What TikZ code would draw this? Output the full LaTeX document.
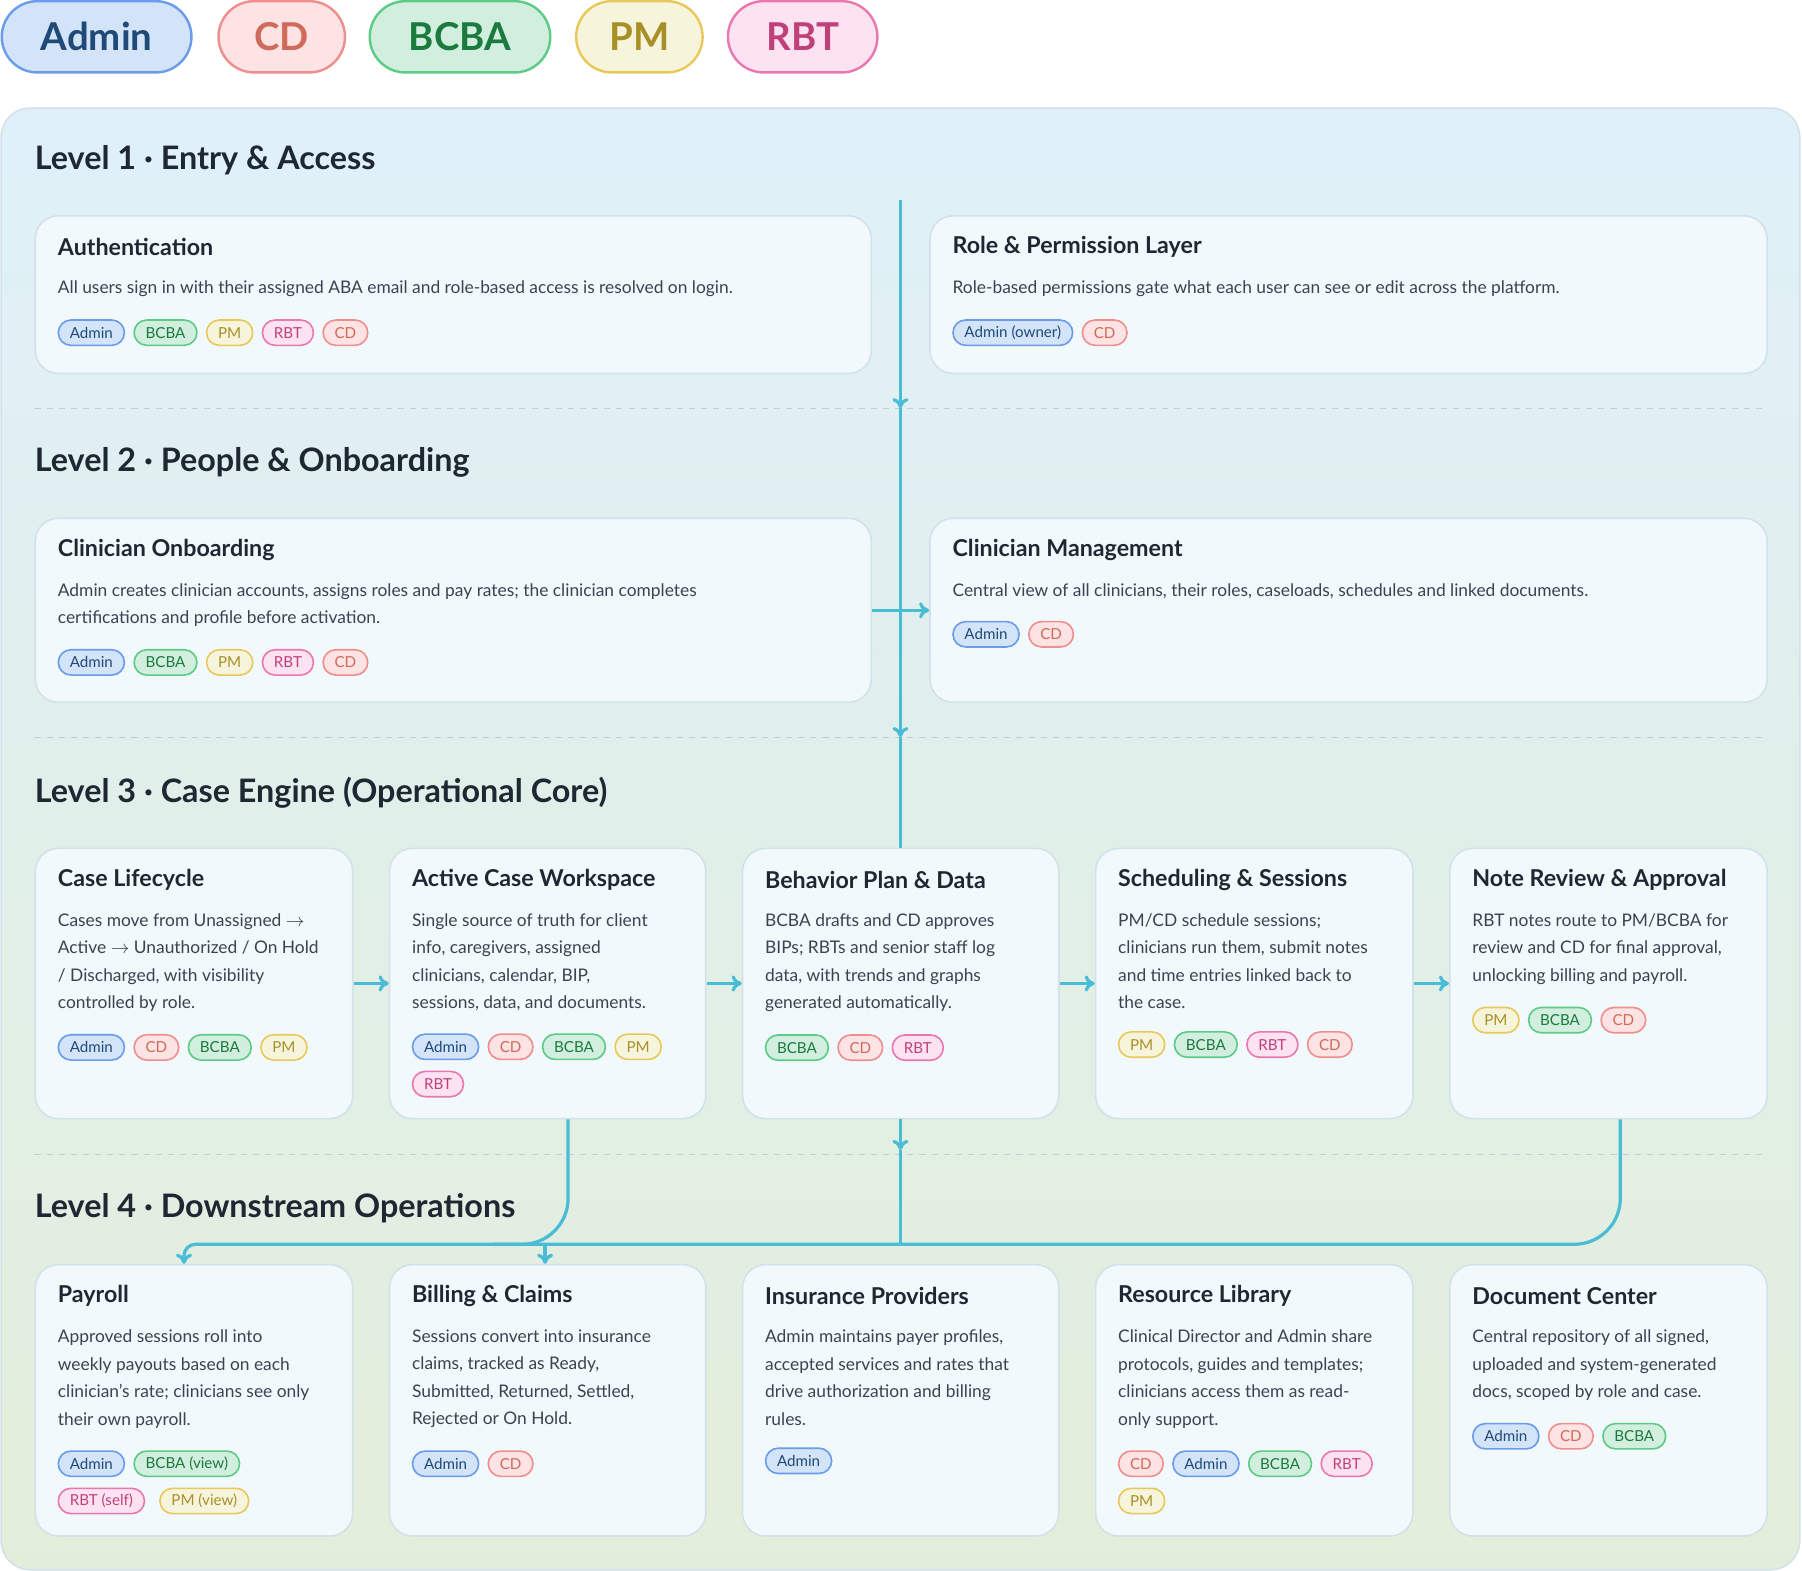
\documentclass[tikz,border=0pt]{standalone}
\usepackage{fontspec}
\setmainfont{Lato}
\usetikzlibrary{arrows.meta,positioning,calc}
\definecolor{flowblue}{HTML}{4BBCD6}
\definecolor{cardline}{HTML}{D3E1EA}
\definecolor{cardfill}{HTML}{F1F9FC}
\definecolor{paneltop}{HTML}{DFF0F9}
\definecolor{panelbottom}{HTML}{E3EEDA}
\definecolor{inkdark}{HTML}{1E2732}
\definecolor{inkbody}{HTML}{3A4350}
\definecolor{adminfill}{HTML}{D3E3F8}\definecolor{admindraw}{HTML}{6A9CEB}\definecolor{admintext}{HTML}{1F4A78}
\definecolor{cdfill}{HTML}{FDE3E3}\definecolor{cddraw}{HTML}{F08E8E}\definecolor{cdtext}{HTML}{D06A5A}
\definecolor{bcbafill}{HTML}{D2EEDF}\definecolor{bcbadraw}{HTML}{5CCB85}\definecolor{bcbatext}{HTML}{1B7A3E}
\definecolor{pmfill}{HTML}{F7F4DC}\definecolor{pmdraw}{HTML}{E8C85A}\definecolor{pmtext}{HTML}{A89028}
\definecolor{rbtfill}{HTML}{FDE3F2}\definecolor{rbtdraw}{HTML}{E878AE}\definecolor{rbttext}{HTML}{C0407A}
\tikzset{
  chip/.style={draw,line width=0.8pt,rounded corners=0.22cm,minimum height=0.44cm,inner xsep=0.2cm,inner ysep=0pt,font=\fontsize{7.5}{9}\selectfont},
  bigchip/.style={draw,line width=1.2pt,rounded corners=0.62cm,minimum height=1.24cm,inner xsep=0.3cm,font=\fontsize{19}{22}\selectfont\bfseries},
  admin/.style={fill=adminfill,draw=admindraw,text=admintext},
  cd/.style={fill=cdfill,draw=cddraw,text=cdtext},
  bcba/.style={fill=bcbafill,draw=bcbadraw,text=bcbatext},
  pm/.style={fill=pmfill,draw=pmdraw,text=pmtext},
  rbt/.style={fill=rbtfill,draw=rbtdraw,text=rbttext},
  cardbox/.style={draw=cardline,line width=0.8pt,fill=cardfill,rounded corners=0.4cm,anchor=north west,inner sep=0pt},
  cardtitle/.style={anchor=west,inner sep=0pt,text=inkdark,font=\fontsize{11.5}{13}\selectfont\bfseries},
  cardbody/.style={anchor=north west,inner sep=0pt,align=left,text=inkbody,font=\fontsize{8.6}{13.6}\selectfont},
  leveltitle/.style={anchor=west,inner sep=0pt,text=inkdark,font=\fontsize{16}{19}\selectfont\bfseries},
  flow/.style={flowblue,line width=1.6pt},
  flowarrow/.style={flow,-{To[length=5pt,width=8pt]}},
  sep/.style={cardline!80!gray,dashed,line width=0.6pt}
}
% card: name, x, y, width, height, title, body
\newcommand\card[7]{%
  \node[cardbox,minimum width={#4*0.02cm},minimum height={#5*0.02cm}] (#1) at (#2,#3) {};
  \node[cardtitle] (#1-t) at ($(#1.north west)+(20,28)$) {#6};
  \node[cardbody] (#1-b) at ($(#1.north west)+(20,57)$) {#7};
}
\begin{document}
\begin{tikzpicture}[x=0.02cm,y=-0.02cm]
\useasboundingbox (0,0) rectangle (1567,1366);

% legend
\node[bigchip,admin,minimum width=3.3cm] (lg-admin) at (84,32) {Admin};
\node[bigchip,cd,minimum width=2.2cm] (lg-cd) at (245,32) {CD};
\node[bigchip,bcba,minimum width=3.14cm] (lg-bcba) at (400,32) {BCBA};
\node[bigchip,pm,minimum width=2.2cm] (lg-pm) at (556,32) {PM};
\node[bigchip,rbt,minimum width=2.6cm] (lg-rbt) at (698,32) {RBT};

% panel
\shade[top color=paneltop,bottom color=panelbottom,rounded corners=0.5cm] (1,94) rectangle (1565,1365);
\draw[cardline,line width=0.8pt,rounded corners=0.5cm] (1,94) rectangle (1565,1365);

% levels
\node[leveltitle] (lv1) at (30,139) {Level 1 · Entry \& Access};
\node[leveltitle] (lv2) at (30,402) {Level 2 · People \& Onboarding};
\node[leveltitle] (lv3) at (30,689) {Level 3 · Case Engine (Operational Core)};
\node[leveltitle] (lv4) at (30,1051) {Level 4 · Downstream Operations};
\draw[sep] (30,355) -- (1537,355);
\draw[sep] (30,641) -- (1537,641);
\draw[sep] (30,1004) -- (1537,1004);

% level 1
\card{auth}{30}{187}{727}{137}{Authentication}{All users sign in with their assigned ABA email and role-based access is resolved on login.}
\card{role}{808}{187}{728}{137}{Role \& Permission Layer}{Role-based permissions gate what each user can see or edit across the platform.}
\node[chip,admin,below=0.38cm of auth-b.south west,anchor=north west] (auth-1) {Admin};
\node[chip,bcba,right=0.14cm of auth-1] (auth-2) {BCBA};
\node[chip,pm,right=0.14cm of auth-2] (auth-3) {PM};
\node[chip,rbt,right=0.14cm of auth-3] (auth-4) {RBT};
\node[chip,cd,right=0.14cm of auth-4] (auth-5) {CD};
\node[chip,admin,below=0.38cm of role-b.south west,anchor=north west] (role-1) {Admin (owner)};
\node[chip,cd,right=0.14cm of role-1] (role-2) {CD};

% level 2
\card{onb}{30}{450}{727}{160}{Clinician Onboarding}{Admin creates clinician accounts, assigns roles and pay rates; the clinician completes\\certifications and profile before activation.}
\card{mgmt}{808}{450}{728}{160}{Clinician Management}{Central view of all clinicians, their roles, caseloads, schedules and linked documents.}
\node[chip,admin,below=0.38cm of onb-b.south west,anchor=north west] (onb-1) {Admin};
\node[chip,bcba,right=0.14cm of onb-1] (onb-2) {BCBA};
\node[chip,pm,right=0.14cm of onb-2] (onb-3) {PM};
\node[chip,rbt,right=0.14cm of onb-3] (onb-4) {RBT};
\node[chip,cd,right=0.14cm of onb-4] (onb-5) {CD};
\node[chip,admin,below=0.38cm of mgmt-b.south west,anchor=north west] (mgmt-1) {Admin};
\node[chip,cd,right=0.14cm of mgmt-1] (mgmt-2) {CD};

% level 3
\card{life}{30}{737}{276}{235}{Case Lifecycle}{Cases move from Unassigned $\rightarrow$\\Active $\rightarrow$ Unauthorized / On Hold\\/ Discharged, with visibility\\controlled by role.}
\card{work}{338}{737}{275}{235}{Active Case Workspace}{Single source of truth for client\\info, caregivers, assigned\\clinicians, calendar, BIP,\\sessions, data, and documents.}
\card{bip}{645}{737}{275}{235}{Behavior Plan \& Data}{BCBA drafts and CD approves\\BIPs; RBTs and senior staff log\\data, with trends and graphs\\generated automatically.}
\card{sched}{952}{737}{276}{235}{Scheduling \& Sessions}{PM/CD schedule sessions;\\clinicians run them, submit notes\\and time entries linked back to\\the case.}
\card{note}{1260}{737}{276}{235}{Note Review \& Approval}{RBT notes route to PM/BCBA for\\review and CD for final approval,\\unlocking billing and payroll.}
\node[chip,admin,below=0.38cm of life-b.south west,anchor=north west] (life-1) {Admin};
\node[chip,cd,right=0.14cm of life-1] (life-2) {CD};
\node[chip,bcba,right=0.14cm of life-2] (life-3) {BCBA};
\node[chip,pm,right=0.14cm of life-3] (life-4) {PM};
\node[chip,admin,below=0.38cm of work-b.south west,anchor=north west] (work-1) {Admin};
\node[chip,cd,right=0.14cm of work-1] (work-2) {CD};
\node[chip,bcba,right=0.14cm of work-2] (work-3) {BCBA};
\node[chip,pm,right=0.14cm of work-3] (work-4) {PM};
\node[chip,rbt,below=0.18cm of work-1.south west,anchor=north west] (work-5) {RBT};
\node[chip,bcba,below=0.38cm of bip-b.south west,anchor=north west] (bip-1) {BCBA};
\node[chip,cd,right=0.14cm of bip-1] (bip-2) {CD};
\node[chip,rbt,right=0.14cm of bip-2] (bip-3) {RBT};
\node[chip,pm,below=0.38cm of sched-b.south west,anchor=north west] (sched-1) {PM};
\node[chip,bcba,right=0.14cm of sched-1] (sched-2) {BCBA};
\node[chip,rbt,right=0.14cm of sched-2] (sched-3) {RBT};
\node[chip,cd,right=0.14cm of sched-3] (sched-4) {CD};
\node[chip,pm,below=0.38cm of note-b.south west,anchor=north west] (note-1) {PM};
\node[chip,bcba,right=0.14cm of note-1] (note-2) {BCBA};
\node[chip,cd,right=0.14cm of note-2] (note-3) {CD};

% level 4
\card{pay}{30}{1099}{276}{236}{Payroll}{Approved sessions roll into\\weekly payouts based on each\\clinician's rate; clinicians see only\\their own payroll.}
\card{bill}{338}{1099}{275}{236}{Billing \& Claims}{Sessions convert into insurance\\claims, tracked as Ready,\\Submitted, Returned, Settled,\\Rejected or On Hold.}
\card{ins}{645}{1099}{275}{236}{Insurance Providers}{Admin maintains payer profiles,\\accepted services and rates that\\drive authorization and billing\\rules.}
\card{res}{952}{1099}{276}{236}{Resource Library}{Clinical Director and Admin share\\protocols, guides and templates;\\clinicians access them as read-\\only support.}
\card{doc}{1260}{1099}{276}{236}{Document Center}{Central repository of all signed,\\uploaded and system-generated\\docs, scoped by role and case.}
\node[chip,admin,below=0.38cm of pay-b.south west,anchor=north west] (pay-1) {Admin};
\node[chip,bcba,right=0.14cm of pay-1] (pay-2) {BCBA (view)};
\node[chip,rbt,below=0.18cm of pay-1.south west,anchor=north west] (pay-3) {RBT (self)};
\node[chip,pm,right=0.24cm of pay-3] (pay-4) {PM (view)};
\node[chip,admin,below=0.38cm of bill-b.south west,anchor=north west] (bill-1) {Admin};
\node[chip,cd,right=0.14cm of bill-1] (bill-2) {CD};
\node[chip,admin,below=0.38cm of ins-b.south west,anchor=north west] (ins-1) {Admin};
\node[chip,cd,below=0.38cm of res-b.south west,anchor=north west] (res-1) {CD};
\node[chip,admin,right=0.14cm of res-1] (res-2) {Admin};
\node[chip,bcba,right=0.14cm of res-2] (res-3) {BCBA};
\node[chip,rbt,right=0.14cm of res-3] (res-4) {RBT};
\node[chip,pm,below=0.18cm of res-1.south west,anchor=north west] (res-5) {PM};
\node[chip,admin,below=0.38cm of doc-b.south west,anchor=north west] (doc-1) {Admin};
\node[chip,cd,right=0.14cm of doc-1] (doc-2) {CD};
\node[chip,bcba,right=0.14cm of doc-2] (doc-3) {BCBA};

% flow
\coordinate (spine) at (783,174);
\coordinate (mid1) at (783,355);
\coordinate (mid2) at (783,641);
\coordinate (mid3) at (783,1000);
\coordinate (bus) at (783,1082);
\draw[flowarrow] (spine) -- (mid1);
\draw[flowarrow] (mid1) -- (mid2);
\draw[flow] (mid2) -- (bip.north -| mid2);
\draw[flowarrow] (onb.east) -- (mgmt.west);
\draw[flowarrow] (life.east) -- (work.west);
\draw[flowarrow] (work.east) -- (bip.west);
\draw[flowarrow] (bip.east) -- (sched.west);
\draw[flowarrow] (sched.east) -- (note.west);
\draw[flowarrow] (bip.south -| mid3) -- (mid3);
\draw[flow] (mid3) -- (bus);
\draw[flow,rounded corners=0.8cm] (note.south -| 1409,0) |- (bus);
\draw[flowarrow,rounded corners=0.2cm] (bus) -- (160,1082) -- (pay.north -| 160,0);
\draw[flow,rounded corners=0.8cm] (work.south -| 494,0) |- (430,1082);
\draw[flowarrow] (474,1082) -- (bill.north -| 474,0);
\end{tikzpicture}
\end{document}
